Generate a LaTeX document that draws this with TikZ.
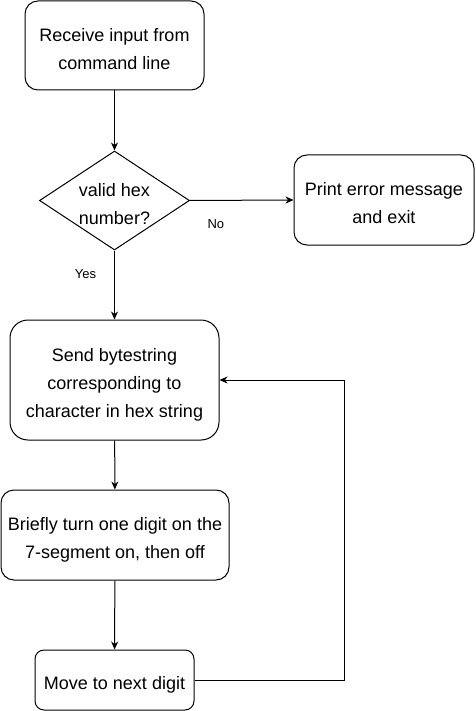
\documentclass[tikz,border=0pt]{standalone}
\usepackage{fontspec}
\setmainfont{Liberation Sans}
\usetikzlibrary{shapes.geometric,arrows.meta}
\newcommand{\steptext}[1]{\raisebox{-4pt}[\height][\depth]{\begin{tabular}{@{}c@{}}#1\end{tabular}}}
\begin{document}
\begin{tikzpicture}[x=1pt, y=-1pt,
  step box/.style={draw, rounded corners=13pt, line width=1pt, inner sep=0pt, font=\fontsize{18}{28}\selectfont},
  tip/.style={-{Stealth[length=8pt,width=7pt,inset=2.5pt]}, line width=1pt},
  lbl/.style={font=\fontsize{13}{15}\selectfont, inner sep=0pt}]
\useasboundingbox (0,0) rectangle (475,711);

\node[step box, minimum width=179pt, minimum height=89pt] (box0) at (114.5,45.5){\steptext{Receive input from\\command line}};

\node[diamond, draw, line width=1pt, minimum width=150pt, minimum height=99pt, inner sep=0pt,
  label={[font=\fontsize{18}{28}\selectfont, inner sep=0pt]center:\steptext{valid hex\\number?}}] (dec0) at (114.5,200.5){};

\node[step box, minimum width=180pt, minimum height=90pt] (err0) at (384,200){\steptext{Print error message\\and exit}};

\node[step box, rounded corners=18pt, minimum width=209pt, minimum height=120pt] (box1) at (114.5,380){\steptext{Send bytestring\\corresponding to\\character in hex string}};

\node[step box, minimum width=228pt, minimum height=90pt] (box2) at (115,535){\steptext{Briefly turn one digit on the\\7-segment on, then off}};

\node[step box, rounded corners=9pt, minimum width=159pt, minimum height=60pt] (box3) at (114.5,680){\steptext{Move to next digit}};

\coordinate (turn0) at (344,380);

\draw[tip](box0) -- (dec0);
\draw[tip](dec0.east) -- node[lbl, pos=0.25, yshift=-24pt]{No} (err0.west);
\draw[tip](dec0.south) -- node[lbl, pos=0.34, xshift=-29pt]{Yes} (box1.north);
\draw[tip](box1) -- (box2);
\draw[tip](box2) -- (box3);
\draw[tip](box3.east) -| (turn0) -- (box1.east);

\end{tikzpicture}
\end{document}
